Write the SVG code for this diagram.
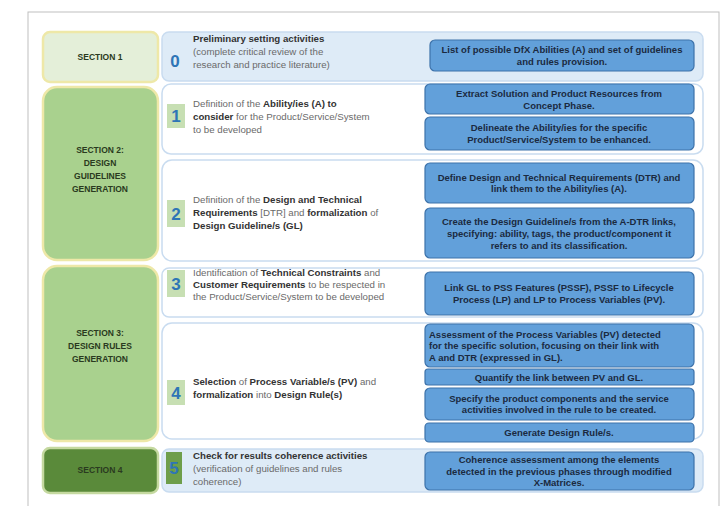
<svg xmlns="http://www.w3.org/2000/svg" width="727" height="506" viewBox="0 0 727 506">
<style>
text{font-family:"Liberation Sans",Arial,sans-serif}
.frame{fill:#fff;stroke:#bfbfbf;stroke-width:1}
.sec{stroke:#eee8a8;stroke-width:2.5}
.s1{fill:#e4efd9}
.s23{fill:#a9d18e}
.s4{fill:#5a8a3a;stroke:#c5d9a0}
.sl{font-size:8.5px;font-weight:bold;fill:#2a3a20;text-anchor:middle}
.step{fill:#fff;stroke:#c9dcf0;stroke-width:1.5}
.stepb{fill:#deebf7;stroke:#c9dcf0;stroke-width:1.5}
.sq{fill:#c7dfb3}
.sq5{fill:#6e9e4a}
.num{font-size:17px;font-weight:bold;fill:#2e75b6;text-anchor:middle}
.st{font-size:9.7px;fill:#6a6a6a}
.st tspan.b{font-weight:bold;fill:#333}
.bb{fill:#62a0da;stroke:#3d72aa;stroke-width:1.2}
.bt{font-size:9.5px;font-weight:bold;fill:#1b2a40;text-anchor:middle}
.btl{font-size:9.5px;font-weight:bold;fill:#1b2a40}
</style>
<rect class="frame" x="28" y="12" width="691" height="500"/>
<g id="connectors"></g>

<g id="section1">
<rect class="sec s1" x="43" y="32" width="115" height="50" rx="7"/>
<text class="sl" x="100" y="60">SECTION 1</text>
</g>
<g id="section2">
<rect class="sec s23" x="43" y="87" width="115" height="173" rx="14"/>
<text class="sl" x="100" y="153">SECTION 2:</text>
<text class="sl" x="100" y="166">DESIGN</text>
<text class="sl" x="100" y="179">GUIDELINES</text>
<text class="sl" x="100" y="192">GENERATION</text>
</g>
<g id="section3">
<rect class="sec s23" x="43" y="266" width="115" height="175" rx="14"/>
<text class="sl" x="100" y="336">SECTION 3:</text>
<text class="sl" x="100" y="349">DESIGN RULES</text>
<text class="sl" x="100" y="362">GENERATION</text>
</g>
<g id="section4">
<rect class="sec s4" x="43" y="448" width="115" height="45" rx="7"/>
<text class="sl" x="100" y="473">SECTION 4</text>
</g>

<g id="step0">
<rect class="stepb" x="162" y="32" width="541" height="49" rx="7"/>
<text class="num" x="175" y="67">0</text>
<text class="st" x="193" y="42"><tspan class="b">Preliminary setting activities</tspan></text>
<text class="st" x="193" y="55">(complete critical review of the</text>
<text class="st" x="193" y="68">research and practice literature)</text>
<rect class="bb" x="430" y="40" width="264" height="31" rx="5"/>
<text class="bt" x="562" y="53.3">List of possible DfX Abilities (A) and set of guidelines</text>
<text class="bt" x="562" y="65">and rules provision.</text>
</g>

<g id="step1">
<rect class="step" x="162" y="84" width="541" height="70" rx="9"/>
<rect class="sq" x="167" y="104" width="18" height="24"/>
<text class="num" x="176" y="122">1</text>
<text class="st" x="193" y="107">Definition of the <tspan class="b">Ability/ies (A) to</tspan></text>
<text class="st" x="193" y="120"><tspan class="b">consider</tspan> for the Product/Service/System</text>
<text class="st" x="193" y="133">to be developed</text>
<rect class="bb" x="425" y="84" width="269" height="30" rx="5"/>
<text class="bt" x="559" y="96.7">Extract Solution and Product Resources from</text>
<text class="bt" x="559" y="108.5">Concept Phase.</text>
<rect class="bb" x="425" y="117" width="269" height="33" rx="5"/>
<text class="bt" x="559" y="131">Delineate the Ability/ies for the specific</text>
<text class="bt" x="559" y="143">Product/Service/System to be enhanced.</text>
</g>

<g id="step2">
<rect class="step" x="162" y="160" width="541" height="101" rx="10"/>
<rect class="sq" x="167" y="200" width="18" height="27"/>
<text class="num" x="176" y="220">2</text>
<text class="st" x="193" y="203">Definition of the <tspan class="b">Design and Technical</tspan></text>
<text class="st" x="193" y="216"><tspan class="b">Requirements</tspan> [DTR] and <tspan class="b">formalization</tspan> of</text>
<text class="st" x="193" y="229"><tspan class="b">Design Guideline/s (GL)</tspan></text>
<rect class="bb" x="425" y="163" width="269" height="40" rx="5"/>
<text class="bt" x="559" y="180.5">Define Design and Technical Requirements (DTR) and</text>
<text class="bt" x="559" y="192">link them to the Ability/ies (A).</text>
<rect class="bb" x="425" y="208" width="269" height="50" rx="5"/>
<text class="bt" x="559" y="224.5">Create the Design Guideline/s from the A-DTR links,</text>
<text class="bt" x="559" y="236.5">specifying: ability, tags, the product/component it</text>
<text class="bt" x="559" y="248.5">refers to and its classification.</text>
</g>

<g id="step3">
<rect class="step" x="162" y="268" width="541" height="49" rx="7"/>
<rect class="sq" x="167" y="270" width="18" height="27"/>
<text class="num" x="176" y="290">3</text>
<text class="st" x="193" y="276">Identification of <tspan class="b">Technical Constraints</tspan> and</text>
<text class="st" x="193" y="288"><tspan class="b">Customer Requirements</tspan> to be respected in</text>
<text class="st" x="193" y="300">the Product/Service/System to be developed</text>
<rect class="bb" x="425" y="272" width="269" height="43" rx="5"/>
<text class="bt" x="559" y="291">Link GL to PSS Features (PSSF), PSSF to Lifecycle</text>
<text class="bt" x="559" y="303">Process (LP) and LP to Process Variables (PV).</text>
</g>

<g id="step4">
<rect class="step" x="162" y="323" width="541" height="116" rx="10"/>
<rect class="sq" x="167" y="380" width="18" height="25"/>
<text class="num" x="176" y="399">4</text>
<text class="st" x="193" y="385"><tspan class="b">Selection</tspan> of <tspan class="b">Process Variable/s (PV)</tspan> and</text>
<text class="st" x="193" y="398"><tspan class="b">formalization</tspan> into <tspan class="b">Design Rule(s)</tspan></text>
<rect class="bb" x="425" y="324" width="269" height="43" rx="5"/>
<text class="btl" x="429" y="337.5">Assessment of the Process Variables (PV) detected</text>
<text class="btl" x="429" y="349">for the specific solution, focusing on their link with</text>
<text class="btl" x="429" y="360.5">A and DTR (expressed in GL).</text>
<rect class="bb" x="425" y="369" width="269" height="16" rx="3"/>
<text class="bt" x="559" y="380.5">Quantify the link between PV and GL.</text>
<rect class="bb" x="425" y="388" width="269" height="32" rx="5"/>
<text class="bt" x="559" y="401.5">Specify the product components and the service</text>
<text class="bt" x="559" y="413">activities involved in the rule to be created.</text>
<rect class="bb" x="425" y="423" width="269" height="19" rx="4"/>
<text class="bt" x="559" y="436">Generate Design Rule/s.</text>
</g>

<g id="step5">
<rect class="stepb" x="162" y="449" width="541" height="43" rx="7"/>
<rect class="sq5" x="166" y="452" width="16" height="32"/>
<text class="num" x="174" y="474">5</text>
<text class="st" x="193" y="459"><tspan class="b">Check for results coherence activities</tspan></text>
<text class="st" x="193" y="472">(verification of guidelines and rules</text>
<text class="st" x="193" y="485">coherence)</text>
<rect class="bb" x="425" y="452" width="269" height="38" rx="5"/>
<text class="bt" x="559" y="463">Coherence assessment among the elements</text>
<text class="bt" x="559" y="474.5">detected in the previous phases through modified</text>
<text class="bt" x="559" y="486">X-Matrices.</text>
</g>
</svg>
